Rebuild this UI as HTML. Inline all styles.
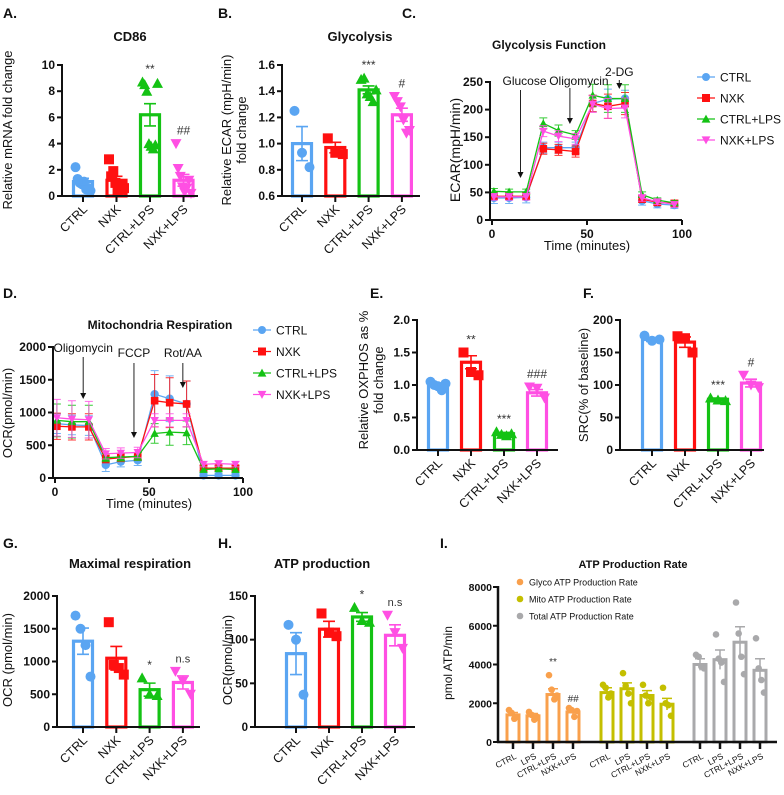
<!DOCTYPE html>
<html><head><meta charset="utf-8"><style>
html,body{margin:0;padding:0;background:#fff}
svg{display:block;font-family:"Liberation Sans",Arial,sans-serif}
</style></head><body>
<svg id="fig" width="784" height="795" viewBox="0 0 784 795" xmlns="http://www.w3.org/2000/svg"></svg>
<script>
// ---------- data ----------
const groups = ["CTRL","NXK","CTRL+LPS","NXK+LPS"];
const groupColors = ["#5aa5f2","#ff1010","#14c214","#ff4fe3"];
const groupShapes = ["circle","square","tri","tridown"];

const aMeans = [1.1,1.2,6.2,1.2];
const aSem = [0.25,0.3,0.85,0.45];
const aPts = [[2.2,1.3,1.0,0.9,1.1,0.5,0.6,0.4],[2.8,1.5,1.9,1.0,0.4,0.5,0.9,0.6],[8.7,8.5,8.0,4.0,3.8,3.6,3.9,8.6],[4.0,2.1,1.5,0.7,0.3,0.6,1.2,0.2]];
const aTicks = [0,2,4,6,8,10];
const aSig = ["","","**","##"];

const bMeans = [1.0,0.97,1.41,1.22];
const bSem = [0.13,0.04,0.03,0.05];
const bPts = [[1.25,0.93,0.82],[1.04,0.93,0.92],[1.49,1.5,1.38,1.36,1.32,1.41],[1.36,1.32,1.28,1.18,1.08,1.1]];
const bTicks = [0.6,0.8,1.0,1.2,1.4,1.6];
const bSig = ["","","***","#"];

const eMeans = [1.0,1.35,0.25,0.88];
const eSem = [0.03,0.1,0.02,0.05];
const ePts = [[1.05,1.0,0.98,0.92,1.02],[1.5,1.2,1.15],[0.28,0.24,0.22,0.25],[0.97,0.95,0.8]];
const eTicks = [0,0.5,1.0,1.5,2.0];
const eSig = ["","**","***","###"];

const fMeans = [170,166,78,103];
const fSem = [3,8,2,6];
const fPts = [[176,168,170],[175,172,150],[80,77,76],[115,100,96]];
const fTicks = [0,50,100,150,200];
const fSig = ["","","***","#"];

const gMeans = [1310,1050,570,680];
const gSem = [200,180,100,100];
const gPts = [[1700,1500,1250,770],[1600,950,900,800],[750,500,480],[850,700,500]];
const gTicks = [0,500,1000,1500,2000];
const gSig = ["","","*","n.s"];

const hMeans = [84,112,126,105];
const hSem = [24,9,5,12];
const hPts = [[117,100,37],[130,108,104],[137,122,120],[128,108,90]];
const hTicks = [0,50,100,150];
const hSig = ["","","*","n.s"];

const times = [1,9,18,27,35,44,53,61,70,79,87,96];
const cSeries = [
 [40,40,41,131,131,131,211,219,220,35,29,27],
 [43,43,43,129,127,124,211,206,211,38,32,30],
 [52,51,51,175,162,154,226,220,220,46,36,31],
 [42,42,42,161,152,147,210,202,203,40,33,28]];
const cErr = [[10,10,10,10,10,10,15,18,15,8,7,6],[6,6,6,10,10,10,15,22,20,6,6,6],[5,5,5,10,10,8,20,25,25,5,4,4],[6,6,6,10,10,10,15,18,18,6,5,5]];
const cTicks = [0,50,100,150,200,250];
const dSeries = [
 [830,810,800,200,250,270,1280,1210,1130,40,40,40],
 [790,780,780,290,310,330,1180,1150,1130,150,150,150],
 [880,860,860,310,320,330,680,700,690,130,140,130],
 [920,900,890,370,380,390,880,880,880,210,220,210]];
const dErr = [[150,150,150,100,80,80,360,350,350,30,30,30],[200,200,200,60,60,60,400,380,350,40,40,40],[250,250,250,60,60,60,150,200,180,40,40,40],[280,280,280,80,80,80,100,100,100,40,40,40]];
const dTicks = [0,500,1000,1500,2000];
const timeTicks = [0,50,100];

const iSets = ["Glyco ATP Production Rate","Mito ATP Production Rate","Total ATP Production Rate"];
const iColors = ["#f9a04c","#c4bf00","#a9a9ab"];
const iCats = ["CTRL","LPS","CTRL+LPS","NXK+LPS"];
const iMeans = [[1400,1350,2450,1550],[2550,2750,2400,1950],[4000,4250,5150,3700]];
const iSem = [[120,120,300,130],[250,300,250,300],[300,500,800,600]];
const iPts = [
 [[1650,1500,1200,1300],[1550,1400,1150,1300],[3450,2700,2200,2400],[1750,1650,1300,1600]],
 [[2950,2800,2300,2500],[3550,2900,2500,2000],[2950,2400,2000,2300],[2800,2000,1900,1350]],
 [[4500,4400,3900,3800],[5550,4300,4100,3100],[7200,5600,4400,3500],[5350,3800,3200,2550]]];
const iTicks = [0,2000,4000,6000,8000];
const iSig = [["","","**","##"],[],[]];

// ---------- helpers ----------
const NS="http://www.w3.org/2000/svg";
const svg=document.getElementById('fig');
function el(tag,attrs,parent,txt){const e=document.createElementNS(NS,tag);for(const k in attrs)e.setAttribute(k,attrs[k]);if(txt!==undefined)e.textContent=txt;(parent||svg).appendChild(e);return e;}
function grp(name,parent){const g=el('g',{},parent);return g;}
function text(parent,x,y,s,opts,name){const t=el('text',Object.assign({x:x,y:y,fill:'#111'},opts||{}),parent,s);return t;}
function marker(parent,shape,x,y,r,color){
 let m;
 if(shape==='circle')m=el('circle',{cx:x,cy:y,r:r,fill:color},parent);
 else if(shape==='square')m=el('rect',{x:x-r,y:y-r,width:2*r,height:2*r,fill:color},parent);
 else if(shape==='tri')m=el('polygon',{points:`${x},${y-r*1.1} ${x-r*1.1},${y+r*0.9} ${x+r*1.1},${y+r*0.9}`,fill:color},parent);
 else m=el('polygon',{points:`${x},${y+r*1.1} ${x-r*1.1},${y-r*0.9} ${x+r*1.1},${y-r*0.9}`,fill:color},parent);
 
 
 return m;
}
function fmt(v,ticks){const dec=ticks.some(t=>Math.abs(t-Math.round(t))>1e-9)?1:0;return v.toFixed(dec);}
function yAxis(g,x0,yScale,ticks,xEnd,yBot,fs){
 el('line',{x1:x0,y1:yScale(ticks[ticks.length-1])-1,x2:x0,y2:yBot+1,stroke:'#111','stroke-width':2},g);
 el('line',{x1:x0-1,y1:yBot,x2:xEnd,y2:yBot,stroke:'#111','stroke-width':2},g);
 ticks.forEach(t=>{const y=yScale(t);el('line',{x1:x0-5,y1:y,x2:x0,y2:y,stroke:'#111','stroke-width':2},g);
  text(g,x0-7,y+4,fmt(t,ticks),{'text-anchor':'end','font-size':fs||12,'font-weight':'bold'},'y-tick-label');});
}
function panelLabel(x,y,s){text(svg,x,y,s,{'font-size':14,'font-weight':'bold'},'panel-letter');}
function rotLabel(g,x,y,s,fs,name){const t=text(g,x,y,s,{'text-anchor':'middle','font-size':fs||12,transform:`rotate(-90 ${x} ${y})`},name||'y-axis-title');return t;}

function barPanel(name,cfg,means,sems,pts,ticks,sig){
 const g=grp(name);
 const [vmin,vmax]=[ticks[0],ticks[ticks.length-1]];
 const ys=v=>cfg.yBot-(v-vmin)/(vmax-vmin)*(cfg.yBot-cfg.yTop);
 const xs=i=>cfg.first+i*cfg.step;
 const bw=cfg.bw||19;
 means.forEach((m,i)=>{
  const c=groupColors[i],cx=xs(i);
  const b=el('rect',{x:cx-bw/2,y:ys(m),width:bw,height:cfg.yBot-ys(m),fill:'none',stroke:c,'stroke-width':3.2},g);
  
  
  const n=pts[i].length;
  pts[i].forEach((p,j)=>{const off=n>1?(-bw/2+2+j*(bw-4)/(n-1)):0;marker(g,groupShapes[i],cx+off,ys(p),cfg.r||5,c);});
  const eb=el('path',{d:`M${cx},${ys(m-sems[i])}V${ys(m+sems[i])}M${cx-6},${ys(m+sems[i])}h12M${cx-6},${ys(m-sems[i])}h12`,stroke:c,'stroke-width':1.6,fill:'none'},g);
  
  
  el('line',{x1:cx,y1:cfg.yBot,x2:cx,y2:cfg.yBot+6,stroke:'#111','stroke-width':2},g);
  text(g,cx+5,cfg.yBot+14,groups[i],{'text-anchor':'end','font-size':12.5,transform:`rotate(-45 ${cx+5} ${cfg.yBot+14})`},'x-tick-label');
  if(sig[i]){const top=Math.max(m+sems[i],...pts[i]);text(g,cx,ys(top)-9,sig[i],{'text-anchor':'middle','font-size':sig[i]==='n.s'?11:12,fill:'#333'},'significance-label');}
 });
 yAxis(g,cfg.x0,ys,ticks,cfg.xEnd,cfg.yBot,cfg.tfs||12);
 if(cfg.title)text(g,cfg.tx,cfg.ty,cfg.title,{'text-anchor':'middle','font-size':13,'font-weight':'bold'},'chart-title');
 return g;
}

function linePanel(name,cfg,series,errs,ticks){
 const g=grp(name);
 const vmax=ticks[ticks.length-1];
 const ys=v=>cfg.yBot-v/vmax*(cfg.yBot-cfg.yTop);
 const xs=t=>cfg.xL+t/100*(cfg.xR-cfg.xL);
 series.forEach((s,k)=>{
  const c=groupColors[k];
  const sg=grp('series-'+groups[k].toLowerCase().replace('+','-'),g);
  s.forEach((v,j)=>{const x=xs(times[j]);const e=errs[k][j];
   el('path',{d:`M${x},${ys(v-e)}V${ys(v+e)}M${x-4},${ys(v+e)}h8M${x-4},${ys(v-e)}h8`,stroke:c,'stroke-width':1,fill:'none',opacity:0.85},sg);});
  const ln=el('polyline',{points:s.map((v,j)=>xs(times[j])+','+ys(v)).join(' '),fill:'none',stroke:c,'stroke-width':1.3},sg);
  
  
  s.forEach((v,j)=>marker(sg,groupShapes[k],xs(times[j]),ys(v),k===0?4.2:3.8,c));
 });
 yAxis(g,cfg.xL-2,ys,ticks,cfg.xR,cfg.yBot,12);
 timeTicks.forEach(t=>{el('line',{x1:xs(t),y1:cfg.yBot,x2:xs(t),y2:cfg.yBot+5,stroke:'#111','stroke-width':2},g);
  text(g,xs(t),cfg.yBot+18,String(t),{'text-anchor':'middle','font-size':12,'font-weight':'bold'},'x-tick-label');});
 text(g,(cfg.xL+cfg.xR)/2,cfg.yBot+30,'Time (minutes)',{'text-anchor':'middle','font-size':13},'x-axis-title');
 text(g,cfg.tx,cfg.ty,cfg.title,{'text-anchor':'middle','font-size':12,'font-weight':'bold'},'chart-title');
 cfg.arrows.forEach(a=>{const x=xs(a.t);
  text(g,x+(a.dx||0),a.ly,a.label,{'text-anchor':'middle','font-size':12},'annotation');
  el('line',{x1:x,y1:a.y1,x2:x,y2:a.y2-4,stroke:'#222','stroke-width':1},g);
  el('polygon',{points:`${x-3},${a.y2-6} ${x+3},${a.y2-6} ${x},${a.y2}`,fill:'#111'},g);});
 const lg=grp('legend',g);
 groups.forEach((n,k)=>{const y=cfg.legY+k*cfg.legStep;
  el('line',{x1:cfg.legX-9,y1:y,x2:cfg.legX+9,y2:y,stroke:groupColors[k],'stroke-width':1.3},lg);
  marker(lg,groupShapes[k],cfg.legX,y,4,groupColors[k]);
  text(lg,cfg.legX+14,y+4.5,n,{'font-size':12},'legend-entry');});
}

// ---------- panels ----------
panelLabel(3,18,'A.');
barPanel('panel-a-cd86',{x0:62,xEnd:198,yTop:65,yBot:196,first:83,step:33.5,title:'CD86',tx:130,ty:41},aMeans,aSem,aPts,aTicks,aSig);
rotLabel(svg,12,130,'Relative mRNA fold change',13);

panelLabel(218,18,'B.');
barPanel('panel-b-glycolysis',{x0:282,xEnd:420,yTop:65,yBot:196,first:302,step:33.3,title:'Glycolysis',tx:360,ty:41},bMeans,bSem,bPts,bTicks,bSig);
rotLabel(svg,231,130,'Relative ECAR (mpH/min)',13);
rotLabel(svg,246,130,'fold change',13);

panelLabel(402,18,'C.');
linePanel('panel-c-glycolysis-function',{xL:492,xR:682,yTop:82,yBot:220,title:'Glycolysis Function',tx:549,ty:49,legX:706,legY:77,legStep:21,
 arrows:[{t:15,label:'Glucose',ly:85,y1:90,y2:178,dx:4},{t:41,label:'Oligomycin',ly:85,y1:88,y2:124,dx:9},{t:67,label:'2-DG',ly:76,y1:80,y2:89}]},cSeries,cErr,cTicks);
rotLabel(svg,460,150,'ECAR(mpH/min)',14);

panelLabel(3,298,'D.');
linePanel('panel-d-mito-respiration',{xL:55,xR:243,yTop:347,yBot:478,title:'Mitochondria Respiration',tx:160,ty:329,legX:262,legY:330,legStep:21.5,
 arrows:[{t:15,label:'Oligomycin',ly:352,y1:357,y2:399},{t:42,label:'FCCP',ly:357,y1:363,y2:438},{t:68,label:'Rot/AA',ly:357,y1:363,y2:388}]},dSeries,dErr,dTicks);
rotLabel(svg,12,413,'OCR(pmol/min)',13);

panelLabel(370,298,'E.');
barPanel('panel-e-oxphos',{x0:417,xEnd:558,yTop:320,yBot:450,first:438,step:33},eMeans,eSem,ePts,eTicks,eSig);
rotLabel(svg,368,380,'Relative OXPHOS as %',13);
rotLabel(svg,383,380,'fold change',13);

panelLabel(583,298,'F.');
barPanel('panel-f-src',{x0:620,xEnd:764,yTop:320,yBot:450,first:652,step:33},fMeans,fSem,fPts,fTicks,fSig);
rotLabel(svg,588,385,'SRC(% of baseline)',13);

panelLabel(3,548,'G.');
barPanel('panel-g-maximal-respiration',{x0:57,xEnd:200,yTop:596,yBot:727,first:83,step:33.3,title:'Maximal respiration',tx:130,ty:568},gMeans,gSem,gPts,gTicks,gSig);
rotLabel(svg,12,660,'OCR (pmol/min)',13);

panelLabel(218,548,'H.');
barPanel('panel-h-atp-production',{x0:255,xEnd:415,yTop:596,yBot:727,first:296,step:33,title:'ATP production',tx:322,ty:568,tfs:11.5},hMeans,hSem,hPts,hTicks,hSig);
rotLabel(svg,232,660,'OCR(pmol/min)',13);

// Panel I
panelLabel(440,548,'I.');
(function(){
 const g=grp('panel-i-atp-rate');
 const yTop=587,yBot=742,vmax=iTicks[iTicks.length-1];
 const ys=v=>yBot-v/vmax*(yBot-yTop);
 const setStart=[513,607,700],step=20,bw=12;
 iMeans.forEach((ms,s)=>{ms.forEach((m,i)=>{
  const cx=setStart[s]+i*step,c=iColors[s];
  const b=el('rect',{x:cx-bw/2,y:ys(m),width:bw,height:yBot-ys(m),fill:'none',stroke:c,'stroke-width':3},g);
  
  
  iPts[s][i].forEach((p,j)=>marker(g,'circle',cx-4+j*8/3,ys(p),3.3,c));
  const e=iSem[s][i];
  el('path',{d:`M${cx},${ys(m-e)}V${ys(m+e)}M${cx-5},${ys(m+e)}h10`,stroke:c,'stroke-width':1.5,fill:'none'},g);
  el('line',{x1:cx,y1:yBot,x2:cx,y2:yBot+7,stroke:'#111','stroke-width':2.5},g);
  text(g,cx+4,yBot+16,iCats[i],{'text-anchor':'end','font-size':8.5,transform:`rotate(-28 ${cx+4} ${yBot+16})`},'x-tick-label');
  const sg=iSig[s][i];
  if(sg)text(g,cx,ys(Math.max(m+e,...iPts[s][i]))-(i===2?10:6),sg,{'text-anchor':'middle','font-size':10,fill:'#333','font-style':sg==='##'?'italic':'normal'},'significance-label');
 });});
 el('line',{x1:498,y1:yTop-1,x2:498,y2:yBot+1,stroke:'#111','stroke-width':2.5},g);
 el('line',{x1:497,y1:yBot,x2:777,y2:yBot,stroke:'#111','stroke-width':2.5},g);
 iTicks.forEach(t=>{const y=ys(t);el('line',{x1:493,y1:y,x2:498,y2:y,stroke:'#111','stroke-width':2},g);
  text(g,492,y+4,String(t),{'text-anchor':'end','font-size':10.5,'font-weight':'bold'},'y-tick-label');});
 text(g,633,568,'ATP Production Rate',{'text-anchor':'middle','font-size':11,'font-weight':'bold'},'chart-title');
 rotLabel(g,452,663,'pmol ATP/min',12);
 const lg=grp('legend',g);
 iSets.forEach((n,k)=>{const y=582+k*17;
  const d=el('circle',{cx:520,cy:y,r:3.3,fill:iColors[k]},lg);
  
  
  text(lg,529,y+3.5,n,{'font-size':9},'legend-entry');});
})();
</script>
</body></html>
